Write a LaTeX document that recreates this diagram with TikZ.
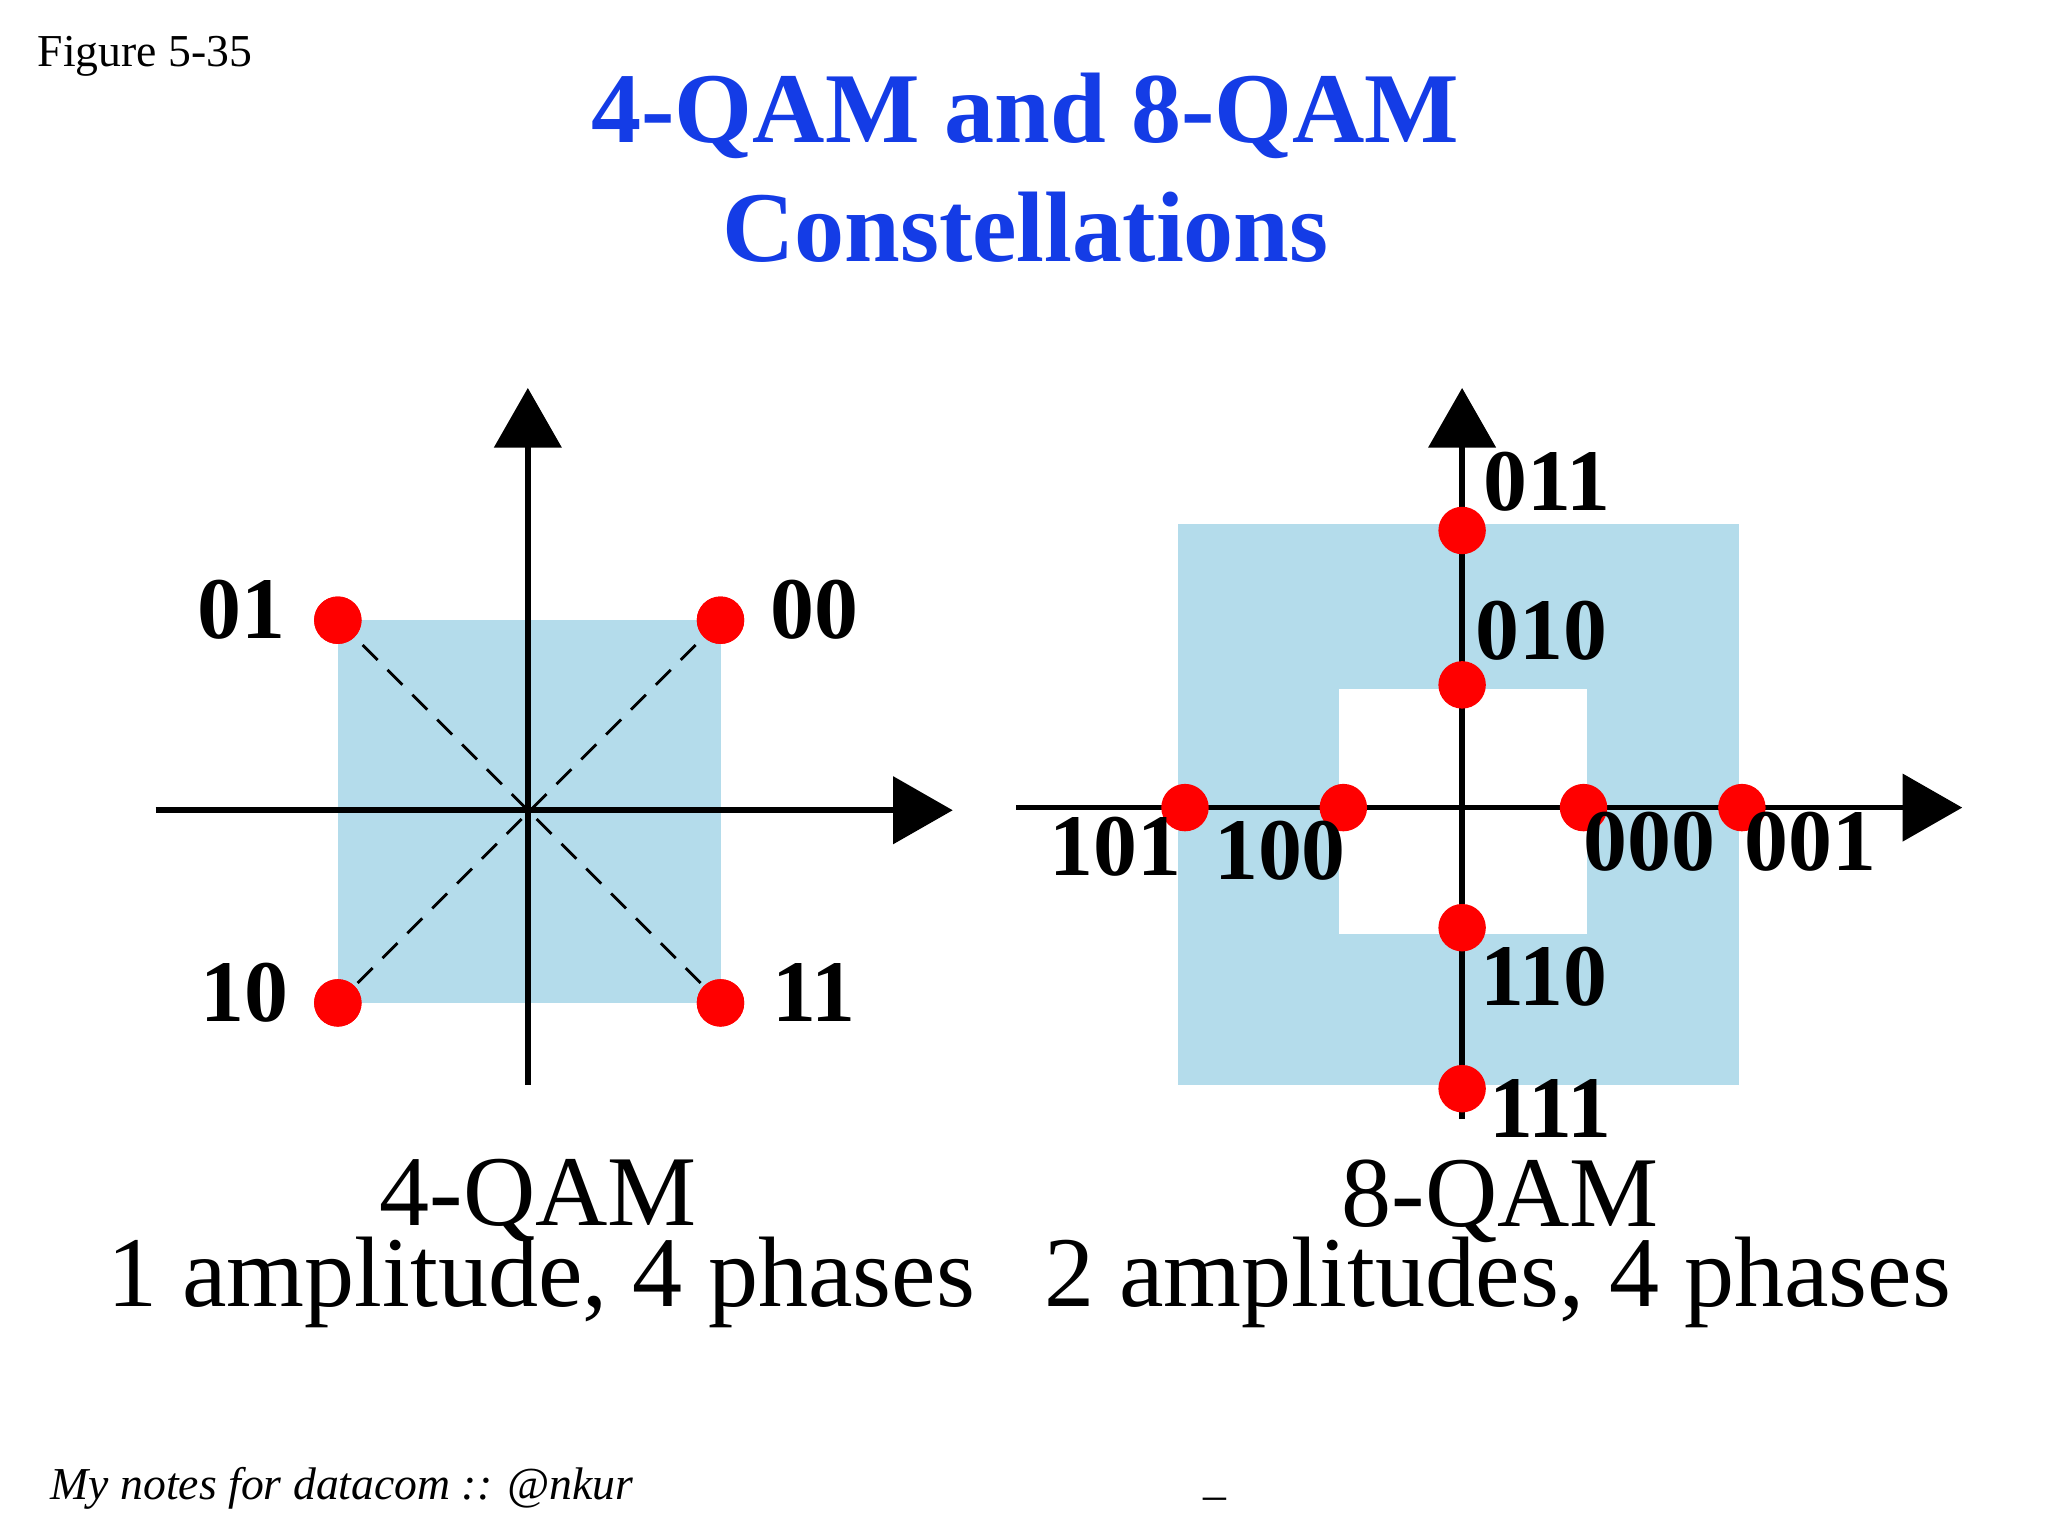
\documentclass[tikz,border=0pt]{standalone}
\usepackage{fontspec}
\setmainfont{Liberation Serif}
\usetikzlibrary{arrows.meta}
\definecolor{ttl}{RGB}{20,60,230}
\definecolor{lb}{RGB}{180,220,235}
\begin{document}
\begin{tikzpicture}[x=0.0132cm,y=-0.0132cm,
  ax/.style={line width=1.6pt,-{Triangle[length=17pt,width=19pt]}},
  pt/.style={circle,fill=red,minimum size=13.5pt,inner sep=0pt},
  lab/.style={font=\fontsize{25}{27}\selectfont\bfseries,inner sep=0pt},
  big/.style={font=\fontsize{28.5}{30}\selectfont,inner sep=0pt},
  dsh/.style={dash pattern=on 6pt off 4pt,line width=0.8pt}]
\useasboundingbox (0,0) rectangle (1552,1164);
\fill[white] (0,0) rectangle (1552,1164);
\node[font=\fontsize{13}{15}\selectfont,anchor=west,inner sep=0pt] (fig) at (28,43) {Figure 5-35};
\node[font=\fontsize{28.5}{30}\selectfont\bfseries,text=ttl,inner sep=0pt] (t1) at (777,88) {4-QAM and 8-QAM};
\node[font=\fontsize{28.5}{30}\selectfont\bfseries,text=ttl,inner sep=0pt] (t2) at (777,172) {Constellations};
% left
\fill[lb] (256,470) rectangle (546,760);
\coordinate (lx0) at (118,614); \coordinate (lx1) at (722,614);
\coordinate (ly0) at (400,822); \coordinate (ly1) at (400,294);
\node[pt] (p01) at (256,470) {}; \node[pt] (p00) at (546,470) {};
\node[pt] (p10) at (256,760) {}; \node[pt] (p11) at (546,760) {};
\draw[dsh] (p01.center) -- (p11.center); \draw[dsh] (p00.center) -- (p10.center);
\draw[ax] (lx0) -- (lx1); \draw[ax] (ly0) -- (ly1);
\node[pt] at (256,470) {}; \node[pt] at (546,470) {};
\node[pt] at (256,760) {}; \node[pt] at (546,760) {};
\node[lab] (l01) at (183,462) {01}; \node[lab] (l00) at (617,462) {00};
\node[lab] (l10) at (185,752) {10}; \node[lab] (l11) at (617,752) {11};
% right
\fill[lb] (893,397) rectangle (1318,822);
\fill[white] (1015,522) rectangle (1203,708);
\coordinate (rx0) at (770,612); \coordinate (rx1) at (1487,612);
\coordinate (ry0) at (1108,848); \coordinate (ry1) at (1108,294);
\draw[ax] (rx0) -- (rx1); \draw[ax] (ry0) -- (ry1);
\node[pt] (q011) at (1108,402) {}; \node[pt] (q010) at (1108,519) {};
\node[pt] (q101) at (898,612) {}; \node[pt] (q100) at (1018,612) {};
\node[pt] (q000) at (1200,612) {}; \node[pt] (q001) at (1320,612) {};
\node[pt] (q110) at (1108,703) {}; \node[pt] (q111) at (1108,825) {};
\node[lab] at (1172,365) {011}; \node[lab] at (1168,478) {010};
\node[lab] at (845,642) {101}; \node[lab] at (970,645) {100};
\node[lab] at (1250,638) {000}; \node[lab] at (1372,638) {001};
\node[lab] at (1170,740) {110}; \node[lab] at (1175,840) {111};
% captions
\node[big] (c1) at (408,910) {4-QAM};
\node[big] (c2) at (1137,910) {8-QAM};
\node[big] (c3) at (410,972) {1 amplitude, 4 phases};
\node[big] (c4) at (1135,972) {2 amplitudes, 4 phases};
\node[font=\fontsize{13}{15}\selectfont\itshape,anchor=west,inner sep=0pt] (nt) at (38,1128) {My notes for datacom :: @nkur};
\node[font=\fontsize{13}{15}\selectfont,inner sep=0pt] (us) at (921,1135) {\_};
\end{tikzpicture}
\end{document}
